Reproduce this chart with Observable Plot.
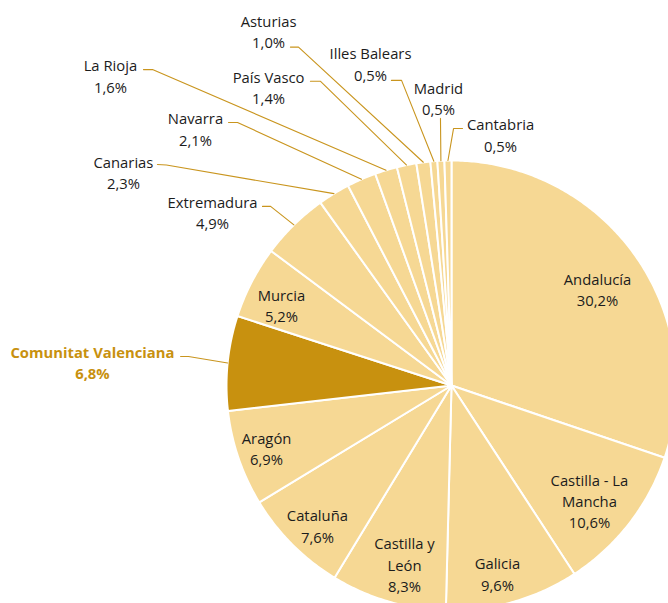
<!DOCTYPE html>
<html>
<head>
<meta charset="utf-8">
<script src="https://cdn.jsdelivr.net/npm/d3@7"></script>
<script src="https://cdn.jsdelivr.net/npm/@observablehq/plot@0.6"></script>
<style>
  html, body { margin: 0; padding: 0; background: #fff; }
  #chart { width: 668px; height: 603px; overflow: hidden; }
</style>
</head>
<body>
<div id="chart"></div>
<script>
// ---- data ----
const regions = ["Andalucía", "Castilla - La Mancha", "Galicia", "Castilla y León", "Cataluña", "Aragón",
  "Comunitat Valenciana", "Murcia", "Extremadura", "Canarias", "Navarra", "La Rioja", "País Vasco",
  "Asturias", "Illes Balears", "Madrid", "Cantabria"];
const shares = [30.2, 10.6, 9.6, 8.3, 7.6, 6.9, 6.8, 5.2, 4.9, 2.3, 2.1, 1.6, 1.4, 1.0, 0.5, 0.5, 0.5];
const labelNames = ["Andalucía", "Castilla - La\nMancha", "Galicia", "Castilla y\nLeón", "Cataluña", "Aragón",
  "Comunitat Valenciana", "Murcia", "Extremadura", "Canarias", "Navarra", "La Rioja", "País Vasco",
  "Asturias", "Illes Balears", "Madrid", "Cantabria"];
const highlighted = "Comunitat Valenciana";

// ---- layout (pie radius units, pie centre = 0,0) ----
const labelAt = {
  "Andalucía": [0.649, 0.424], "Castilla - La Mancha": [0.613, -0.516], "Galicia": [0.204, -0.84],
  "Castilla y León": [-0.209, -0.80], "Cataluña": [-0.596, -0.627], "Aragón": [-0.822, -0.284],
  "Murcia": [-0.756, 0.353],
  "Asturias": [-0.813, 1.571], "Illes Balears": [-0.36, 1.427], "Madrid": [-0.058, 1.273],
  "Cantabria": [0.218, 1.111], "País Vasco": [-0.813, 1.322], "La Rioja": [-1.516, 1.373],
  "Navarra": [-1.138, 1.138], "Canarias": [-1.458, 0.944], "Extremadura": [-1.062, 0.767],
  "Comunitat Valenciana": [-1.596, 0.10]
};
const leaderAt = { // [elbow, end]
  "Asturias": [[-0.68, 1.504], [-0.716, 1.504]],
  "Illes Balears": [[-0.222, 1.356], [-0.267, 1.356]],
  "Madrid": [[-0.049, 1.187], [-0.049, 1.187]],
  "Cantabria": [[0.009, 1.142], [0.049, 1.142]],
  "País Vasco": [[-0.582, 1.352], [-0.627, 1.352]],
  "La Rioja": [[-1.329, 1.404], [-1.369, 1.404]],
  "Navarra": [[-0.951, 1.169], [-0.991, 1.169]],
  "Canarias": [[-1.267, 0.98], [-1.307, 0.982]],
  "Extremadura": [[-0.804, 0.796], [-0.84, 0.796]],
  "Comunitat Valenciana": [[-1.169, 0.129], [-1.204, 0.129]]
};

const LIGHT = "#F6D894", DARK = "#C8910F", LEAD = "#C9951E", TEXT = "#1c1c1c";
const fmt = v => v.toFixed(1).replace(".", ",") + "%";

const total = d3.sum(shares);
let cum = 0;
const slices = regions.map((name, i) => {
  const a0 = cum / total * 2 * Math.PI; cum += shares[i];
  const a1 = cum / total * 2 * Math.PI;
  return {name, value: shares[i], a0, a1, mid: (a0 + a1) / 2, label: labelNames[i]};
});

const polys = [];
for (const s of slices) {
  const color = s.name === highlighted ? DARK : LIGHT;
  polys.push({name: s.name, x: 0, y: 0, color});
  const n = Math.max(2, Math.ceil((s.a1 - s.a0) / 0.01));
  for (let k = 0; k <= n; k++) {
    const a = s.a0 + (s.a1 - s.a0) * k / n;
    polys.push({name: s.name, x: Math.sin(a), y: Math.cos(a), color});
  }
  polys.push({name: s.name, x: 0, y: 0, color});
}

const leaders = [];
for (const s of slices) {
  const L = leaderAt[s.name];
  if (!L) continue;
  leaders.push({name: s.name, x: Math.sin(s.mid), y: Math.cos(s.mid)});
  leaders.push({name: s.name, x: L[0][0], y: L[0][1]});
  leaders.push({name: s.name, x: L[1][0], y: L[1][1]});
}

const labels = slices.map(s => ({
  name: s.name, text: s.label + "\n" + fmt(s.value),
  x: labelAt[s.name][0], y: labelAt[s.name][1],
  bold: s.name === highlighted
}));

const chart = Plot.plot({
  width: 668, height: 603,
  margin: 0,
  x: {domain: [-451 / 225, 217 / 225], axis: null},
  y: {domain: [-218 / 225, 385 / 225], axis: null},
  color: {type: "identity"},
  style: {fontFamily: "'Open Sans', sans-serif", background: "#fff"},
  marks: [
    Plot.line(polys, {x: "x", y: "y", z: "name", fill: "color", stroke: "#fff", strokeWidth: 2, strokeLinejoin: "round", curve: "linear"}),
    Plot.line(leaders, {x: "x", y: "y", z: "name", stroke: LEAD, strokeWidth: 1.1, curve: "linear"}),
    Plot.text(labels.filter(d => !d.bold), {x: "x", y: "y", text: "text", fontSize: 14.8, lineHeight: 1.45, lineAnchor: "middle", dy: -1.5, fill: TEXT}),
    Plot.text(labels.filter(d => d.bold), {x: "x", y: "y", text: "text", fontSize: 14.8, lineHeight: 1.45, lineAnchor: "middle", dy: -1.5, fill: DARK, fontWeight: "bold"})
  ]
});
document.getElementById("chart").appendChild(chart);
</script>
</body>
</html>
